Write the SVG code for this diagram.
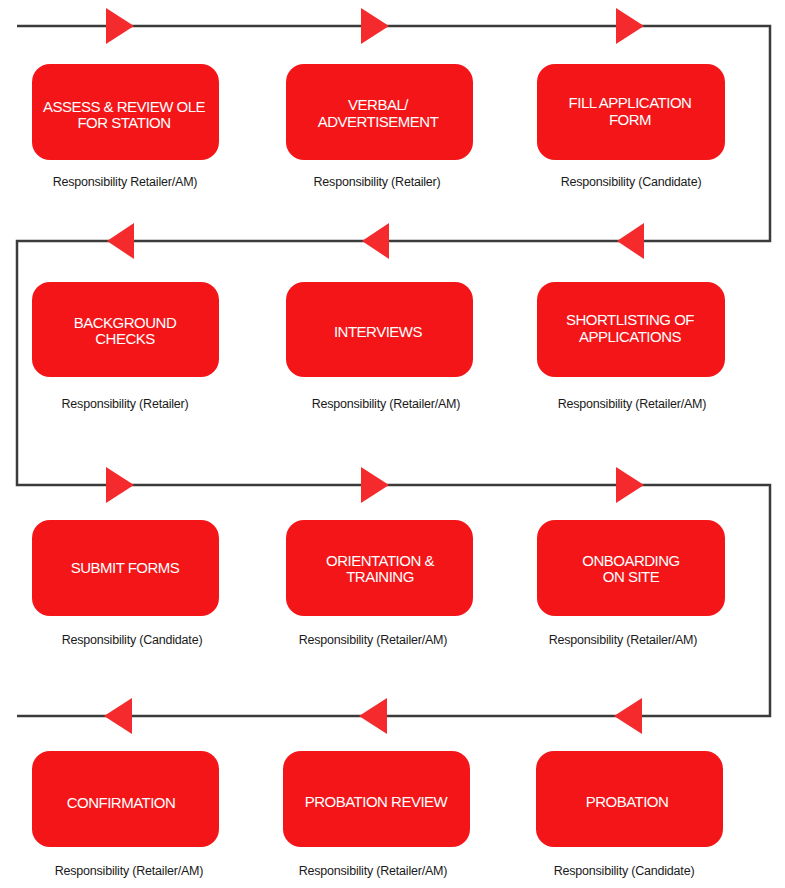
<svg xmlns="http://www.w3.org/2000/svg" width="785" height="888" viewBox="0 0 785 888">
<style>
.box{fill:#f41519}
.tri{fill:#f42a2c}
.line{fill:none;stroke:#3b3b3b;stroke-width:2.5}
.t{font-family:"Liberation Sans",Arial,sans-serif;font-size:15px;fill:#ffffff;text-anchor:middle;letter-spacing:-0.5px}
.s{font-family:"Liberation Sans",Arial,sans-serif;font-size:12.5px;fill:#1a1a1a;text-anchor:middle;letter-spacing:-0.2px}
</style>
<rect width="785" height="888" fill="#ffffff"/>
<g id="connectors">
<path class="line" d="M17,26 H770 V241 H17 V485 H770 V716 H17"/>
<polygon class="tri" points="106,8 134,26 106,44"/>
<polygon class="tri" points="361,8 389,26 361,44"/>
<polygon class="tri" points="616,8 644,26 616,44"/>
<polygon class="tri" points="134,223 107,241 134,259"/>
<polygon class="tri" points="389,223 362,241 389,259"/>
<polygon class="tri" points="644,223 617,241 644,259"/>
<polygon class="tri" points="106,467 134,485 106,503"/>
<polygon class="tri" points="361,467 389,485 361,503"/>
<polygon class="tri" points="616,467 644,485 616,503"/>
<polygon class="tri" points="132,698 104,716 132,734"/>
<polygon class="tri" points="387,698 359,716 387,734"/>
<polygon class="tri" points="642,698 614,716 642,734"/>
</g>
<g id="n1"><rect class="box" x="32" y="64" width="187" height="96" rx="18"/>
<text class="t" x="124" y="112">ASSESS &amp; REVIEW OLE</text><text class="t" x="124" y="128">FOR STATION</text>
<text class="s" x="125" y="186">Responsibility Retailer/AM)</text></g>
<g id="n2"><rect class="box" x="286" y="64" width="187" height="96" rx="18"/>
<text class="t" x="378" y="110">VERBAL/</text><text class="t" x="378" y="127">ADVERTISEMENT</text>
<text class="s" x="377" y="186">Responsibility (Retailer)</text></g>
<g id="n3"><rect class="box" x="537" y="64" width="188" height="96" rx="18"/>
<text class="t" x="630" y="108">FILL APPLICATION</text><text class="t" x="630" y="125">FORM</text>
<text class="s" x="631" y="186">Responsibility (Candidate)</text></g>
<g id="n4"><rect class="box" x="32" y="282" width="187" height="95" rx="18"/>
<text class="t" x="125" y="328">BACKGROUND</text><text class="t" x="125" y="344">CHECKS</text>
<text class="s" x="125" y="408">Responsibility (Retailer)</text></g>
<g id="n5"><rect class="box" x="286" y="282" width="187" height="95" rx="18"/>
<text class="t" x="378" y="337">INTERVIEWS</text>
<text class="s" x="386" y="408">Responsibility (Retailer/AM)</text></g>
<g id="n6"><rect class="box" x="537" y="282" width="188" height="95" rx="18"/>
<text class="t" x="630" y="325">SHORTLISTING OF</text><text class="t" x="630" y="342">APPLICATIONS</text>
<text class="s" x="632" y="408">Responsibility (Retailer/AM)</text></g>
<g id="n7"><rect class="box" x="32" y="520" width="187" height="96" rx="18"/>
<text class="t" x="125" y="573">SUBMIT FORMS</text>
<text class="s" x="132" y="644">Responsibility (Candidate)</text></g>
<g id="n8"><rect class="box" x="286" y="520" width="187" height="96" rx="18"/>
<text class="t" x="380" y="566">ORIENTATION &amp;</text><text class="t" x="380" y="582">TRAINING</text>
<text class="s" x="373" y="644">Responsibility (Retailer/AM)</text></g>
<g id="n9"><rect class="box" x="537" y="520" width="188" height="96" rx="18"/>
<text class="t" x="631" y="566">ONBOARDING</text><text class="t" x="631" y="582">ON SITE</text>
<text class="s" x="623" y="644">Responsibility (Retailer/AM)</text></g>
<g id="n10"><rect class="box" x="32" y="751" width="187" height="96" rx="18"/>
<text class="t" x="121" y="808">CONFIRMATION</text>
<text class="s" x="129" y="875">Responsibility (Retailer/AM)</text></g>
<g id="n11"><rect class="box" x="283" y="751" width="187" height="96" rx="18"/>
<text class="t" x="376" y="807">PROBATION REVIEW</text>
<text class="s" x="373" y="875">Responsibility (Retailer/AM)</text></g>
<g id="n12"><rect class="box" x="536" y="751" width="187" height="96" rx="18"/>
<text class="t" x="627" y="807">PROBATION</text>
<text class="s" x="624" y="875">Responsibility (Candidate)</text></g>
</svg>
